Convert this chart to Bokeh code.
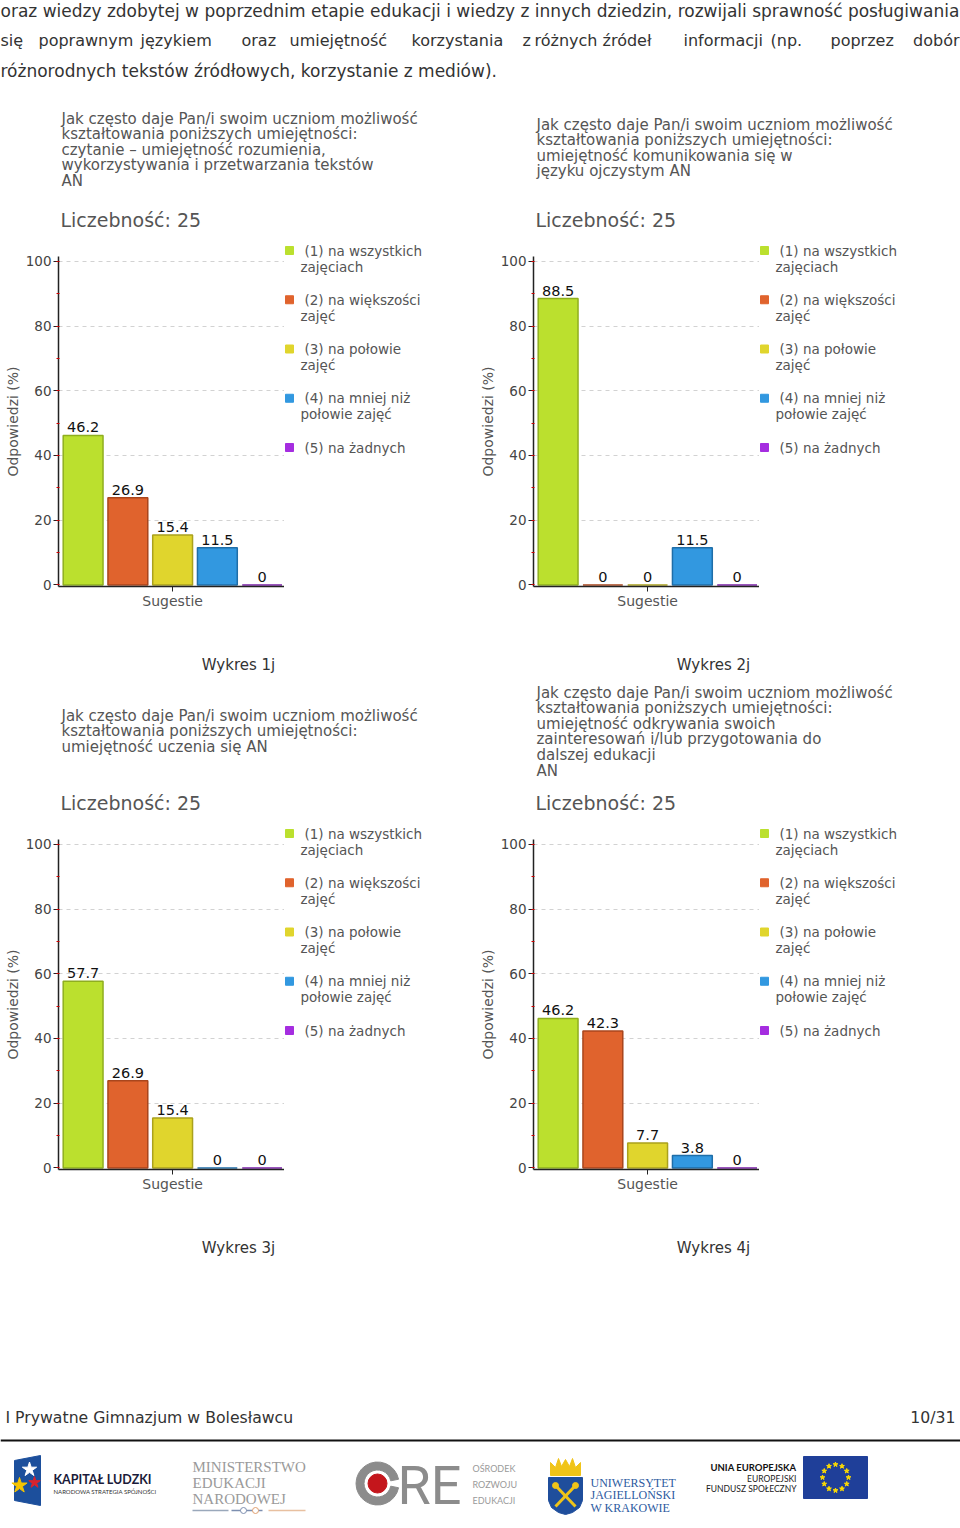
import math
from bokeh.plotting import figure
from bokeh.models import (Range1d, LabelSet, ColumnDataSource,
                          FixedTicker, SingleIntervalTicker)
from bokeh.layouts import column, row
from bokeh.embed import file_html
from bokeh.resources import INLINE
from bokeh.core.properties import value

FONT = "DejaVu Sans"

# ------------------------------------------------------------------ data
categories = ["(1) na wszystkich zajęciach", "(2) na większości zajęć",
              "(3) na połowie zajęć", "(4) na mniej niż połowie zajęć",
              "(5) na żadnych"]
legend_lines = [["(1) na wszystkich", "zajęciach"],
                ["(2) na większości", "zajęć"],
                ["(3) na połowie", "zajęć"],
                ["(4) na mniej niż", "połowie zajęć"],
                ["(5) na żadnych"]]
values_1j = [46.2, 26.9, 15.4, 11.5, 0]
values_2j = [88.5, 0, 0, 11.5, 0]
values_3j = [57.7, 26.9, 15.4, 0, 0]
values_4j = [46.2, 42.3, 7.7, 3.8, 0]
respondents = [25, 25, 25, 25]
captions = ["Wykres 1j", "Wykres 2j", "Wykres 3j", "Wykres 4j"]
chart_titles = [
    ["Jak często daje Pan/i swoim uczniom możliwość",
     "kształtowania poniższych umiejętności:",
     "czytanie – umiejętność rozumienia,",
     "wykorzystywania i przetwarzania tekstów", "AN"],
    ["Jak często daje Pan/i swoim uczniom możliwość",
     "kształtowania poniższych umiejętności:",
     "umiejętność komunikowania się w", "języku ojczystym AN"],
    ["Jak często daje Pan/i swoim uczniom możliwość",
     "kształtowania poniższych umiejętności:",
     "umiejętność uczenia się AN"],
    ["Jak często daje Pan/i swoim uczniom możliwość",
     "kształtowania poniższych umiejętności:",
     "umiejętność odkrywania swoich",
     "zainteresowań i/lub przygotowania do",
     "dalszej edukacji", " AN"],
]
y_ticks = [0, 20, 40, 60, 80, 100]
x_label = "Sugestie"
y_label = "Odpowiedzi (%)"

paragraph_line1 = ("oraz wiedzy zdobytej w poprzednim etapie edukacji i wiedzy "
                   "z innych dziedzin, rozwijali sprawność posługiwania")
paragraph_line2 = ["się", "poprawnym", "językiem", "oraz", "umiejętność",
                   "korzystania", "z", "różnych", "źródeł", "informacji",
                   "(np.", "poprzez", "dobór"]
paragraph_line3 = "różnorodnych tekstów źródłowych, korzystanie z mediów)."
footer_left = "I Prywatne Gimnazjum w Bolesławcu"
footer_right = "10/31"

chart_values = [values_1j, values_2j, values_3j, values_4j]

# ------------------------------------------------------------------ styles
bar_fill = ["#bbe02e", "#e0632d", "#e0d52d", "#3298e0", "#a52de0"]
bar_line = ["#8fae1f", "#a9461d", "#aaa11d", "#1f6ea8", "#7a1fa8"]
line2_pos = [0, 38, 140, 241, 289, 411, 522, 534, 602, 683, 770, 830, 959]
title_first_y = [118, 124, 132, 109]

TOP_H, PLOT_H, BOT_H = 140, 380, 63
PLOT_W = 284
FL, FT, FW, FH = 58, 16, 226, 330
X0, X1, Y0, Y1 = 0.45, 5.5, -0.5, 101.5


def blank(width, height, x0, y0):
    """Figure whose data coordinates are page pixels (y down)."""
    p = figure(width=width, height=height, x_range=Range1d(x0, x0 + width),
               y_range=Range1d(y0 + height, y0), output_backend="svg",
               toolbar_location=None, min_border=0,
               x_axis_type=None, y_axis_type=None)
    p.frame_align = False
    p.outline_line_color = None
    p.grid.visible = False
    p.background_fill_color = "white"
    p.border_fill_color = "white"
    return p


def txt(p, x, y, texts, size, color, font=FONT, align="left", style="normal",
        baseline="middle"):
    p.text(x=x, y=y, text=texts, text_font=value(font),
           text_font_size=value(size), text_color=color, text_align=align,
           text_font_style=style, text_baseline=baseline)


def make_plot(k):
    vals = chart_values[k]
    p = figure(width=PLOT_W, height=PLOT_H,
               x_range=Range1d(X0, X1), y_range=Range1d(Y0, Y1),
               output_backend="svg", toolbar_location=None,
               min_border_left=FL, min_border_right=PLOT_W - FL - FW,
               min_border_top=FT, min_border_bottom=PLOT_H - FT - FH)
    p.frame_align = False
    p.outline_line_color = None
    p.background_fill_color = "white"
    p.border_fill_color = "white"
    p.xgrid.visible = False
    p.ygrid.ticker = FixedTicker(ticks=y_ticks[1:])
    p.ygrid.grid_line_color = "#d2d2d2"
    p.ygrid.grid_line_dash = "4 4"

    src = ColumnDataSource(dict(
        x=list(range(1, len(vals) + 1)), top=vals,
        fill=bar_fill, line=bar_line,
        label=[f"{v:g}" for v in vals], cat=categories))
    p.vbar(x="x", top="top", bottom=0, width=0.89, source=src,
           fill_color="fill", line_color="line", line_width=1.5)
    p.add_layout(LabelSet(x="x", y="top", text="label", source=src,
                          y_offset=3, text_align="center",
                          text_baseline="bottom",
                          text_font=value(FONT),
                          text_font_size=value("14.5px"),
                          text_color="#111111"))

    yax = p.yaxis[0]
    yax.ticker = SingleIntervalTicker(interval=20, num_minor_ticks=2)
    yax.axis_line_color = "#222222"
    yax.axis_line_width = 1.5
    yax.major_tick_line_color = "#222222"
    yax.major_tick_out = 5
    yax.major_tick_in = 0
    yax.minor_tick_line_color = "#d00000"
    yax.minor_tick_in = 1
    yax.minor_tick_out = 2
    yax.major_label_text_font = FONT
    yax.major_label_text_font_size = "13.5px"
    yax.major_label_text_color = "#444444"
    yax.major_label_standoff = 2
    yax.axis_label = y_label
    yax.axis_label_text_font = FONT
    yax.axis_label_text_font_size = "14px"
    yax.axis_label_text_font_style = "normal"
    yax.axis_label_text_color = "#555555"
    yax.axis_label_standoff = 2

    xax = p.xaxis[0]
    xax.ticker = FixedTicker(ticks=[3])
    xax.major_label_overrides = {3: x_label}
    xax.axis_line_color = "#222222"
    xax.axis_line_width = 1.5
    xax.major_tick_line_color = "#222222"
    xax.major_tick_out = 5
    xax.major_tick_in = 0
    xax.minor_tick_line_color = None
    xax.major_label_text_font = FONT
    xax.major_label_text_font_size = "14px"
    xax.major_label_text_color = "#555555"
    xax.major_label_standoff = 1
    return p


def make_block(k, bx, by, bw):
    dx, dy = bx, by - 100
    top = blank(bw, TOP_H, bx, by)
    lines = chart_titles[k]
    txt(top, [61 + dx] * len(lines),
        [title_first_y[k] + 15.6 * i + dy for i in range(len(lines))],
        lines, "15px", "#555555")
    txt(top, [60 + dx], [219 + dy], [f"Liczebność: {respondents[k]}"],
        "19px", "#555555")

    plot = make_plot(k)

    leg = blank(bw - PLOT_W, PLOT_H, bx + PLOT_W, by + TOP_H)
    ys = [250 + 49.25 * i + dy for i in range(len(legend_lines))]
    leg.scatter(x=[289 + dx] * len(ys), y=ys, marker="square", size=8,
                color=bar_fill)
    txt(leg, [304 + dx] * len(ys), ys, [l[0] for l in legend_lines],
        "13.5px", "#555555")
    second = [(y, l[1]) for y, l in zip(ys, legend_lines) if len(l) > 1]
    txt(leg, [300 + dx] * len(second), [y + 16 for y, _ in second],
        [s for _, s in second], "13.5px", "#555555")

    bot = blank(bw, BOT_H, bx, by + TOP_H + PLOT_H)
    txt(bot, [238 + dx], [664 + dy], [captions[k]], "15px", "#333333",
        align="center")
    return column(top, row(plot, leg), bot)


# ------------------------------------------------------------------ header
hdr = blank(960, 100, 0, 0)
txt(hdr, [0], [10], [paragraph_line1], "17px", "#333333")
n2 = len(paragraph_line2)
hdr.text(x=line2_pos, y=[40] * n2, text=paragraph_line2,
         text_font=value(FONT), text_font_size=value("16px"),
         text_color="#333333", text_baseline="middle",
         text_align=["left"] * (n2 - 1) + ["right"])
txt(hdr, [0], [70], [paragraph_line3], "17px", "#333333")

# ------------------------------------------------------------------ charts
b1 = make_block(0, 0, 100, 475)
b2 = make_block(1, 475, 100, 485)
b3 = make_block(2, 0, 683, 475)
b4 = make_block(3, 475, 683, 485)

# ------------------------------------------------------------------ footer
ftr = blank(960, 260, 0, 1266)
txt(ftr, [5], [1417], [footer_left], "15.7px", "#333333")
txt(ftr, [955], [1417], [footer_right], "15.7px", "#333333", align="right")
ftr.segment(x0=[0], y0=[1440], x1=[960], y1=[1440], line_color="#111111",
            line_width=2)

# Kapitał Ludzki
ftr.patch(x=[14, 40, 40, 14], y=[1460, 1455, 1505, 1500], color="#1c4f9c")
ftr.scatter(x=[29], y=[1469], marker="star", size=15, color="white")
ftr.scatter(x=[19], y=[1485], marker="star", size=16, color="#f5c400")
ftr.scatter(x=[34], y=[1482], marker="star", size=12, color="#d9232e")
txt(ftr, [53], [1479], ["KAPITAŁ LUDZKI"], "12.5px", "#1b1b3a", font="Lato",
    style="bold")
txt(ftr, [53], [1491], ["NARODOWA STRATEGIA SPÓJNOŚCI"], "6px", "#333333",
    font="Lato")

# Ministerstwo Edukacji Narodowej
txt(ftr, [192] * 3, [1466, 1482, 1498], ["MINISTERSTWO", "EDUKACJI", "NARODOWEJ"],
    "15px", "#9a9a9a", font="Liberation Serif")
ftr.segment(x0=[192, 268], y0=[1510, 1510], x1=[228, 305], y1=[1510, 1510],
            line_color=["#9aa8bb", "#e8c0a0"], line_width=1.5)
ftr.segment(x0=[231], y0=[1510], x1=[262], y1=[1510], line_color="#7d8fb0",
            line_width=1.5)
ftr.scatter(x=[243, 255], y=[1510, 1510], marker="circle", size=6,
            fill_color="white", line_color=["#7d8fb0", "#e0a070"])

# ORE
ftr.annular_wedge(x=[377], y=[1483], inner_radius=13.5, outer_radius=21.5,
                  start_angle=0.2, end_angle=2 * math.pi - 0.2,
                  color="#8c8c8c")
ftr.scatter(x=[377], y=[1483], marker="circle", size=19, color="#c4161c")
txt(ftr, [397], [1485], ["RE"], "54px", "#8c8c8c", font="Roboto")
txt(ftr, [472] * 3, [1468, 1484, 1500], ["OŚRODEK", "ROZWOJU", "EDUKACJI"],
    "9px", "#9a9a9a", font="Lato")

# Uniwersytet Jagielloński
ftr.patch(x=[550, 550, 555, 558, 561, 565, 569, 572, 575, 580, 580],
          y=[1475, 1462, 1467, 1458, 1466, 1459, 1466, 1458, 1467, 1462, 1475],
          color="#f0c419")
ftr.patch(x=[548, 582, 582, 579, 572, 565, 558, 551, 548],
          y=[1477, 1477, 1500, 1507, 1512, 1514, 1512, 1507, 1500],
          color="#1f4e9c")
ftr.segment(x0=[555, 575], y0=[1485, 1485], x1=[575, 555], y1=[1506, 1506],
            line_color="#f0c419", line_width=3)
ftr.scatter(x=[555, 575], y=[1485, 1485], marker="circle", size=6,
            color="#f0c419")
txt(ftr, [590] * 3, [1482, 1494, 1507],
    ["UNIWERSYTET", "JAGIELLOŃSKI", "W KRAKOWIE"], "12px", "#2c5aa0",
    font="Liberation Serif")

# Unia Europejska
txt(ftr, [796], [1467], ["UNIA EUROPEJSKA"], "9.5px", "#111111", font="Lato",
    style="bold", align="right")
txt(ftr, [796, 796], [1478, 1488], ["EUROPEJSKI", "FUNDUSZ SPOŁECZNY"],
    "8.5px", "#222222", font="Lato", align="right")
ftr.quad(left=[803], right=[867], top=[1456], bottom=[1498], color="#1f3f99")
star_x = [835 + 13 * math.cos(k * math.pi / 6) for k in range(12)]
star_y = [1477 + 13 * math.sin(k * math.pi / 6) for k in range(12)]
ftr.scatter(x=star_x, y=star_y, marker="star", size=5, color="#ffdd00")

layout = column(hdr, row(b1, b2), row(b3, b4), ftr)
open("out.html", "w").write(file_html(layout, INLINE))
